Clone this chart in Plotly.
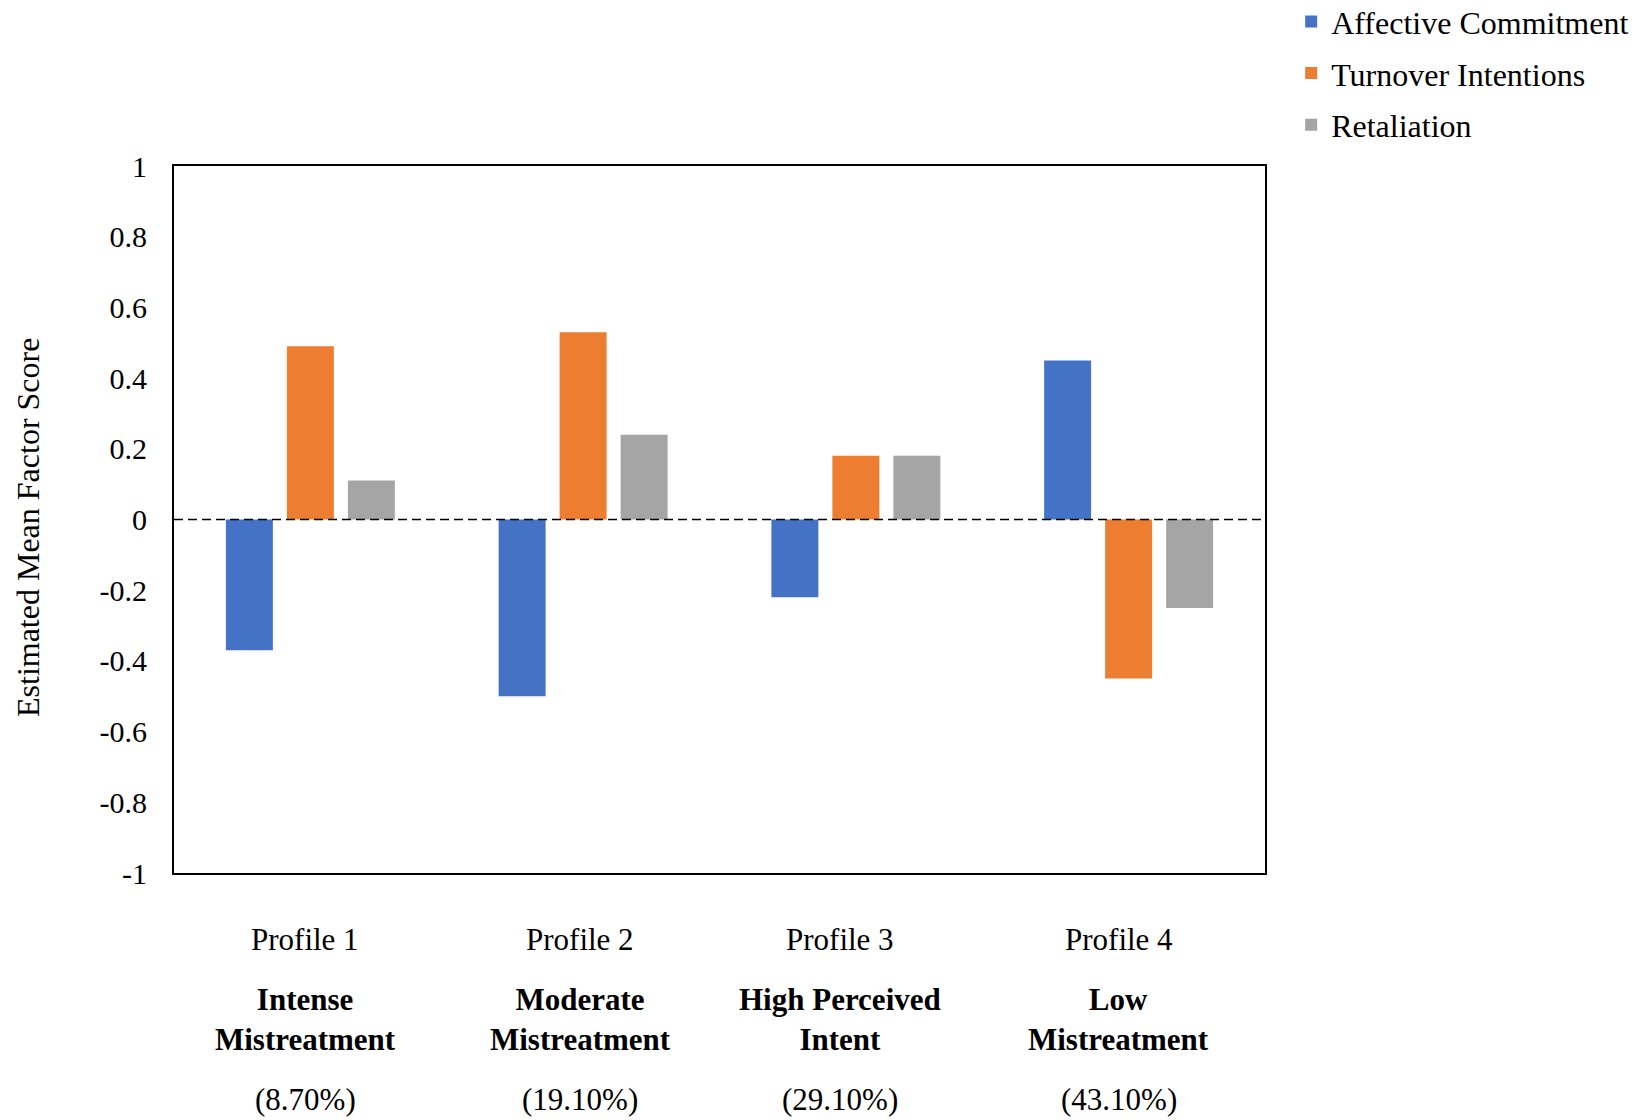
import plotly.graph_objects as go

# Latent profile means for each outcome
profiles = ["Profile 1", "Profile 2", "Profile 3", "Profile 4"]
profile_names = ["Intense<br>Mistreatment", "Moderate<br>Mistreatment",
                 "High Perceived<br>Intent", "Low<br>Mistreatment"]
profile_shares = ["(8.70%)", "(19.10%)", "(29.10%)", "(43.10%)"]

affective_commitment = [-0.37, -0.50, -0.22, 0.45]
turnover_intentions = [0.49, 0.53, 0.18, -0.45]
retaliation = [0.11, 0.24, 0.18, -0.25]

series_names = ["Affective Commitment", "Turnover Intentions", "Retaliation"]
y_ticks = [1, 0.8, 0.6, 0.4, 0.2, 0, -0.2, -0.4, -0.6, -0.8, -1]
y_title = "Estimated Mean Factor Score"

colors = ["#4472C4", "#ED7D31", "#A5A5A5"]
FONT = "Liberation Serif"

fig = go.Figure()
for i, (name, vals) in enumerate(zip(series_names,
                                     [affective_commitment, turnover_intentions, retaliation])):
    fig.add_trace(go.Bar(
        x=profiles, y=vals, name=name,
        marker=dict(color=colors[i], line=dict(width=0)),
        legendgroup=f"g{i}",
    ))

# dashed reference line at zero
fig.add_shape(type="line", xref="paper", x0=0, x1=1, yref="y", y0=0, y1=0,
              line=dict(color="black", width=1.6, dash="9px,5px"), layer="above")

# category labels below the plot, three rows per profile
nudge = [-5, -3, -16, -10]
for i, p in enumerate(profiles):
    fig.add_annotation(x=p, xref="x", y=-0.094, yref="paper", text=p,
                       showarrow=False, xshift=nudge[i], yanchor="middle",
                       font=dict(family=FONT, size=31, color="black"))
    fig.add_annotation(x=p, xref="x", y=-0.207, yref="paper",
                       text=f"<b>{profile_names[i]}</b>",
                       showarrow=False, xshift=nudge[i], yanchor="middle",
                       font=dict(family=FONT, size=31, color="black"))
    fig.add_annotation(x=p, xref="x", y=-0.321, yref="paper", text=profile_shares[i],
                       showarrow=False, xshift=nudge[i], yanchor="middle",
                       font=dict(family=FONT, size=31, color="black"))

# vertical axis title
fig.add_annotation(x=-0.1338, xref="paper", y=0.488, yref="paper", text=y_title,
                   textangle=-90, showarrow=False, xanchor="center", yanchor="middle",
                   font=dict(family=FONT, size=32, color="black"))

fig.update_layout(
    width=1644, height=1120,
    margin=dict(l=174, r=379, t=166, b=247, autoexpand=False),
    paper_bgcolor="white", plot_bgcolor="white",
    barmode="group", bargap=0.329, bargroupgap=0.23,
    font=dict(family=FONT, size=30, color="black"),
    legend=dict(
        x=1.024, xanchor="left", xref="paper",
        y=1.243, yanchor="top", yref="paper",
        font=dict(family=FONT, size=32, color="black"),
        traceorder="grouped", tracegroupgap=7,
        bgcolor="rgba(0,0,0,0)",
    ),
    xaxis=dict(
        showticklabels=False, ticks="", showgrid=False, zeroline=False,
        showline=True, linecolor="black", linewidth=2, mirror=True,
        fixedrange=True,
    ),
    yaxis=dict(
        range=[-1, 1], tickvals=y_ticks,
        ticktext=[f"{v:g}" for v in y_ticks],
        tickfont=dict(family=FONT, size=30, color="black"),
        ticks="", ticklabelstandoff=19,
        showgrid=False, zeroline=False,
        showline=True, linecolor="black", linewidth=2, mirror=True,
    ),
)

fig.write_html("out.html")
